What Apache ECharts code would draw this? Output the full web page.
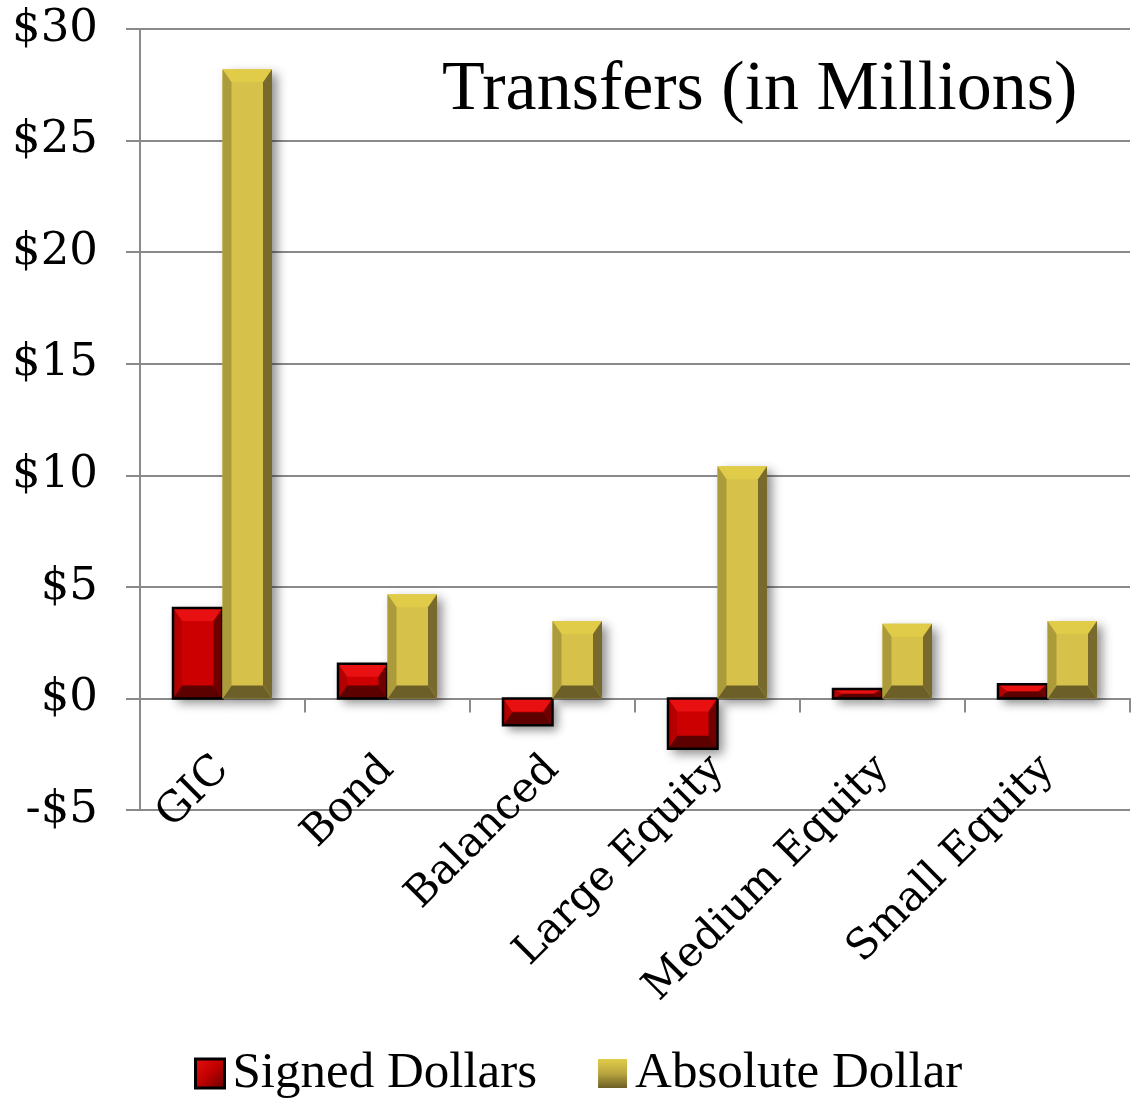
<!DOCTYPE html>
<html>
<head>
<meta charset="utf-8">
<style>
  html, body { margin: 0; padding: 0; background: #fff; }
  #chart { width: 1133px; height: 1099px; }
</style>
<script src="https://cdn.jsdelivr.net/npm/echarts@6/dist/echarts.min.js"></script>
</head>
<body>
<div id="chart"></div>
<script>
// Fund categories and transfer amounts (millions of dollars)
const categories = ['GIC', 'Bond', 'Balanced', 'Large Equity', 'Medium Equity', 'Small Equity'];
const signedDollars = [4.05, 1.55, -1.2, -2.25, 0.42, 0.63];
const absoluteDollar = [28.2, 4.67, 3.47, 10.4, 3.35, 3.47];
const yTicks = { min: -5, max: 30, step: 5 };

// Bevel palettes: top, left, face, right, bottom
const palettes = [
  { top: '#e81010', left: '#b40000', face: '#cc0000', right: '#700000', bottom: '#5c0000', border: '#000000' },
  { top: '#e0cc48', left: '#ab9b3b', face: '#d6c24a', right: '#776a2c', bottom: '#6c5f27', border: null }
];

function bevelBar(params, api) {
  const cat = api.value(0);
  const v = api.value(1);
  const base = api.coord([cat, 0]);
  const end = api.coord([cat, v]);
  const band = api.size([1, 0])[0];
  const bw = band * 0.3;
  const si = params.seriesIndex;
  const x0 = base[0] - bw + si * bw;
  const x1 = x0 + bw;
  const yT = Math.min(base[1], end[1]);
  const yB = Math.max(base[1], end[1]);
  const h = yB - yT;
  const bx = Math.min(9, bw / 2);
  const by = Math.min(13, h / 2);
  const p = palettes[si];
  const children = [
    { type: 'rect', shape: { x: x0, y: yT, width: bw, height: h },
      style: { fill: p.face, shadowBlur: 10, shadowOffsetX: 5, shadowOffsetY: 5, shadowColor: 'rgba(0,0,0,0.45)' } },
    { type: 'polygon', shape: { points: [[x0, yT], [x1, yT], [x1 - bx, yT + by], [x0 + bx, yT + by]] }, style: { fill: p.top } },
    { type: 'polygon', shape: { points: [[x0, yB], [x1, yB], [x1 - bx, yB - by], [x0 + bx, yB - by]] }, style: { fill: p.bottom } },
    { type: 'polygon', shape: { points: [[x0, yT], [x0 + bx, yT + by], [x0 + bx, yB - by], [x0, yB]] }, style: { fill: p.left } },
    { type: 'polygon', shape: { points: [[x1, yT], [x1 - bx, yT + by], [x1 - bx, yB - by], [x1, yB]] }, style: { fill: p.right } }
  ];
  if (p.border) {
    children.push({ type: 'rect', shape: { x: x0, y: yT, width: bw, height: h },
      style: { fill: null, stroke: p.border, lineWidth: 2.5 } });
  }
  return { type: 'group', children: children };
}

const serif = '"Liberation Serif", "Times New Roman", serif';
const wideSerif = '"DejaVu Serif", serif';
const chart = echarts.init(document.getElementById('chart'), null, { renderer: 'canvas' });

chart.setOption({
  animation: false,
  backgroundColor: '#ffffff',
  title: {
    text: 'Transfers (in Millions)',
    left: 437,
    top: 51,
    textStyle: { fontFamily: serif, fontSize: 70, fontWeight: 'normal', color: '#000' }
  },
  legend: {
    left: 194,
    top: 1048,
    padding: 0,
    itemWidth: 29,
    itemHeight: 29,
    itemGap: 61,
    textStyle: { fontFamily: serif, fontSize: 51, color: '#000', padding: [0, 0, 0, 3] },
    data: [
      { name: 'Signed Dollars', icon: 'rect',
        itemStyle: { color: new echarts.graphic.LinearGradient(0, 0, 1, 1, [
          { offset: 0, color: '#e81010' }, { offset: 0.5, color: '#c00000' }, { offset: 1, color: '#600000' }]),
          borderColor: '#000', borderWidth: 3 } },
      { name: 'Absolute Dollar', icon: 'rect',
        itemStyle: { color: new echarts.graphic.LinearGradient(0, 0, 0, 1, [
          { offset: 0, color: '#e0cc48' }, { offset: 0.5, color: '#b8a540' }, { offset: 1, color: '#6c5f27' }]) } }
    ]
  },
  grid: { left: 140, right: 3, top: 29, bottom: 289, containLabel: false },
  xAxis: {
    type: 'category',
    data: categories,
    boundaryGap: true,
    axisLine: { onZero: true, lineStyle: { color: '#8a8a8a', width: 2 } },
    axisTick: { show: true, length: 14, alignWithLabel: false, lineStyle: { color: '#8a8a8a', width: 2 } },
    axisLabel: { interval: 0, rotate: 45, margin: -47, fontFamily: wideSerif, fontSize: 42, color: '#000' },
    splitLine: { show: false }
  },
  yAxis: {
    type: 'value',
    min: yTicks.min,
    max: yTicks.max,
    interval: yTicks.step,
    axisLine: { show: true, lineStyle: { color: '#8a8a8a', width: 2 } },
    axisTick: { show: true, length: 14, lineStyle: { color: '#8a8a8a', width: 2 } },
    axisLabel: {
      margin: 42,
      fontFamily: wideSerif,
      fontSize: 45,
      color: '#000',
      formatter: v => (v < 0 ? '-$' + (-v) : '$' + v)
    },
    splitLine: { show: true, lineStyle: { color: '#8a8a8a', width: 2 } }
  },
  series: [
    { name: 'Signed Dollars', type: 'custom', renderItem: bevelBar,
      itemStyle: { color: '#cc0000' },
      encode: { x: 0, y: 1 },
      data: categories.map((c, i) => [i, signedDollars[i]]) },
    { name: 'Absolute Dollar', type: 'custom', renderItem: bevelBar,
      itemStyle: { color: '#d6c24a' },
      encode: { x: 0, y: 1 },
      data: categories.map((c, i) => [i, absoluteDollar[i]]) }
  ]
});
</script>
</body>
</html>
